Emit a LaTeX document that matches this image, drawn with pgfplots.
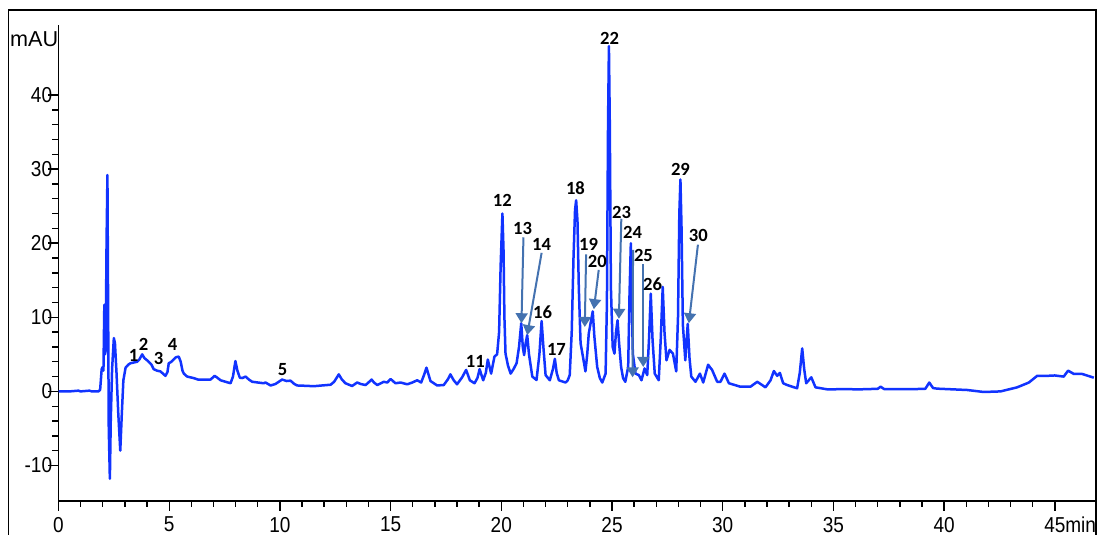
\documentclass[border=0pt]{standalone}
\usepackage{fontspec}
\setmainfont{Liberation Sans}
\newfontfamily\tickfont[FakeStretch=0.88]{Liberation Sans}
\newfontfamily\labfont{Carlito}
\usepackage{pgfplots}
\pgfplotsset{compat=1.18}
\usetikzlibrary{arrows.meta}
\definecolor{curve}{RGB}{17,51,255}
\definecolor{arr}{RGB}{68,114,176}
\begin{document}
\begin{tikzpicture}
\begin{axis}[
 scale only axis, width=518.75pt, height=238.05pt,
 xmin=0, xmax=46.86, ymin=-14.75, ymax=49.5,
 axis x line=bottom, axis y line=left,
 axis line style={-, line width=0.9pt},
 xtick={0,5,...,45}, xticklabels={0,5,10,15,20,25,30,35,40,45\rlap{min}},
 ytick={-10,0,10,20,30,40}, yticklabels={-10,0,10,20,30,40},
 minor x tick num=4, minor y tick num=4,
 tick align=outside,
 xtick style={black, line width=0.7pt},
 ytick style={black, line width=0.7pt},
 major tick length=5pt, minor tick length=3pt,
 ticklabel style={font=\fontsize{10.8}{12}\tickfont},
 xticklabel style={inner sep=1pt, yshift=-2pt},
 yticklabel style={inner sep=1pt, xshift=3pt},
 clip=false,
]
\addplot[curve, line width=1.25pt, line join=round] coordinates {
(0,0) (0.5,0.0) (0.9,0.1) (1.0,0.0) (1.4,0.1) (1.5,0.0) (1.8,0.0) (1.88,0.2)
(1.95,3.0) (2.0,3.3) (2.03,2.8) (2.07,11.7) (2.10,5.0) (2.13,5.5) (2.17,20)
(2.21,29.2) (2.24,12) (2.27,-5) (2.32,-11.8) (2.36,-4) (2.42,3) (2.5,7.2)
(2.55,6.5) (2.62,2.5) (2.7,-3) (2.79,-8.0) (2.86,-3) (2.93,1.5) (3.03,3.2)
(3.15,3.6) (3.25,3.8) (3.4,3.9) (3.55,4.0) (3.65,4.3) (3.78,5.0) (3.88,4.5)
(4.0,4.2) (4.1,3.9) (4.2,3.6) (4.3,3.0) (4.45,2.8) (4.6,2.7) (4.72,2.4)
(4.83,2.1) (4.92,2.6) (4.98,3.8) (5.1,4.0) (5.2,4.3) (5.3,4.6) (5.43,4.7)
(5.52,4.0) (5.6,2.8) (5.66,2.4) (5.81,2.0) (6.1,1.8) (6.3,1.6) (6.87,1.6)
(7.05,2.1) (7.15,1.9) (7.32,1.5) (7.77,1.1) (7.88,2.0) (7.99,4.1) (8.08,2.8)
(8.19,1.85) (8.3,1.8) (8.45,2.0) (8.6,1.6) (8.75,1.3) (9.0,1.2) (9.27,1.1)
(9.35,1.2) (9.58,0.8) (9.8,1.0) (10.1,1.6) (10.3,1.4) (10.48,1.45) (10.65,1.0)
(10.78,0.8) (11.2,0.75) (11.53,0.7) (11.9,0.8) (12.29,0.9) (12.45,1.3)
(12.66,2.3) (12.8,1.6) (12.96,1.1) (13.26,0.73) (13.49,1.2) (13.65,1.0)
(13.87,0.86) (14.0,1.2) (14.14,1.6) (14.25,1.2) (14.4,0.86) (14.69,1.3)
(14.85,1.2) (15.0,1.67) (15.22,1.1) (15.45,1.2) (15.75,0.96) (15.98,1.2)
(16.2,1.5) (16.38,1.2) (16.52,2.3) (16.62,3.2) (16.7,2.4) (16.8,1.4) (17.1,0.8)
(17.4,0.86) (17.58,1.6) (17.7,2.3) (17.85,1.5) (18.0,0.96) (18.23,1.9)
(18.41,2.9) (18.58,1.5) (18.79,1.1) (18.92,1.8) (19.02,3.0) (19.18,1.5)
(19.3,2.5) (19.39,4.3) (19.54,2.4) (19.69,4.7) (19.81,5.0) (19.9,8) (19.97,17)
(20.05,24.0) (20.1,19) (20.14,10) (20.19,5.1) (20.3,3.5) (20.42,2.4) (20.55,3.0)
(20.69,3.8) (20.8,6) (20.9,9.2) (20.97,6) (21.03,4.9) (21.1,6.5) (21.17,7.6)
(21.25,5) (21.4,2.0) (21.59,1.54) (21.72,5) (21.82,9.5) (21.9,6) (22.0,2.2)
(22.19,1.5) (22.33,3) (22.42,4.4) (22.5,2.5) (22.6,1.5) (22.9,1.2) (23.0,1.5)
(23.09,2.2) (23.18,8) (23.26,18) (23.33,24.5) (23.38,25.8) (23.44,23) (23.5,14)
(23.58,6.5) (23.68,4.8) (23.8,2.7) (23.88,5) (23.95,7.8) (24.05,9.5)
(24.13,10.8) (24.2,7.5) (24.33,3.3) (24.45,1.8) (24.56,1.2) (24.71,2.4)
(24.77,12) (24.82,36) (24.86,46.6) (24.9,36) (24.95,14) (25.03,6) (25.11,5.1)
(25.18,8) (25.25,9.6) (25.32,6.5) (25.41,3.3) (25.5,1.8) (25.6,1.3) (25.73,3.3)
(25.79,13) (25.85,20.0) (25.9,11) (25.94,5.1) (26.06,2.4) (26.21,2.2)
(26.33,1.5) (26.47,3.1) (26.59,2.2) (26.67,7) (26.75,13.2) (26.83,7)
(26.93,2.4) (27.11,1.5) (27.2,7) (27.29,14.1) (27.37,8) (27.46,4.2) (27.6,5.6)
(27.75,5.1) (27.9,2.7) (27.98,10) (28.04,24) (28.09,28.6) (28.14,22) (28.2,9)
(28.31,4.2) (28.36,6.5) (28.42,9.1) (28.5,4.5) (28.58,2.0) (28.77,1.3)
(28.97,2.4) (29.12,1.2) (29.34,3.6) (29.44,3.2) (29.52,2.9) (29.75,1.3)
(29.9,1.3) (30.08,2.4) (30.28,1.1) (30.8,0.63) (31.25,0.63) (31.56,1.3)
(31.93,0.55) (32.16,1.5) (32.31,2.75) (32.46,2.1) (32.58,2.5) (32.73,1.1)
(32.91,0.86) (33.36,0.42) (33.48,2.5) (33.59,5.8) (33.68,3) (33.77,1.1)
(34.0,1.9) (34.19,0.55) (34.72,0.28) (35.5,0.3) (36.22,0.28) (37.0,0.35)
(37.13,0.63) (37.3,0.3) (38.5,0.3) (39.15,0.35) (39.33,1.2) (39.5,0.45)
(39.69,0.37) (41.04,0.19) (41.79,-0.08) (42.55,0.0) (43.3,0.55) (43.83,1.2)
(44.2,2.1) (44.66,2.1) (45.0,2.15) (45.4,2.0) (45.6,2.8) (45.86,2.35)
(46.24,2.35) (46.76,1.85)
};
\coordinate (O) at (rel axis cs:0,0);
\node[anchor=east, inner sep=0pt, font=\fontsize{10.8}{12}\selectfont] at (axis cs:0,47.6) {mAU\hspace{1.2pt}};
\begin{scope}[arr, line width=1pt, -{Triangle[length=5pt,width=6pt]}]
\draw (axis cs:21.0,20.8) -- (axis cs:20.91,9.2);
\draw (axis cs:21.82,18.7) -- (axis cs:21.17,7.6);
\draw (axis cs:23.83,18.5) -- (axis cs:23.77,8.7);
\draw (axis cs:24.4,16.4) -- (axis cs:24.18,11.1);
\draw (axis cs:25.42,23.3) -- (axis cs:25.31,9.8);
\draw (axis cs:25.95,19.1) -- (axis cs:25.93,1.9);
\draw (axis cs:26.41,17.2) -- (axis cs:26.41,3.3);
\draw (axis cs:28.88,19.8) -- (axis cs:28.47,9.2);
\end{scope}
\begin{scope}[every node/.style={font=\labfont\bfseries\fontsize{9.3}{10}\selectfont, inner sep=0pt}]
\node at (axis cs:3.39,4.9) {1};
\node at (axis cs:3.84,6.3) {2};
\node at (axis cs:4.52,4.4) {3};
\node at (axis cs:5.15,6.3) {4};
\node at (axis cs:10.12,2.9) {5};
\node at (axis cs:18.83,4.1) {11};
\node at (axis cs:20.05,25.8) {12};
\node at (axis cs:20.96,22.0) {13};
\node at (axis cs:21.82,19.8) {14};
\node at (axis cs:21.86,10.7) {16};
\node at (axis cs:22.49,5.7) {17};
\node at (axis cs:23.35,27.4) {18};
\node at (axis cs:23.94,19.8) {19};
\node at (axis cs:24.34,17.5) {20};
\node at (axis cs:24.89,47.7) {22};
\node at (axis cs:25.43,24.2) {23};
\node at (axis cs:25.93,21.4) {24};
\node at (axis cs:26.42,18.3) {25};
\node at (axis cs:26.83,14.4) {26};
\node at (axis cs:28.09,29.9) {29};
\node at (axis cs:28.9,21.0) {30};
\end{scope}
\end{axis}
\draw[line width=0.8pt] (O) ++(-25pt,-20pt) -- ++(0,265.35pt) -| ++(543.75pt,-265.35pt);
\pgfresetboundingbox
\path[use as bounding box] (O) ++(-29.25pt,-17.15pt) rectangle ++(548.5pt,267.5pt);
\end{tikzpicture}
\end{document}
